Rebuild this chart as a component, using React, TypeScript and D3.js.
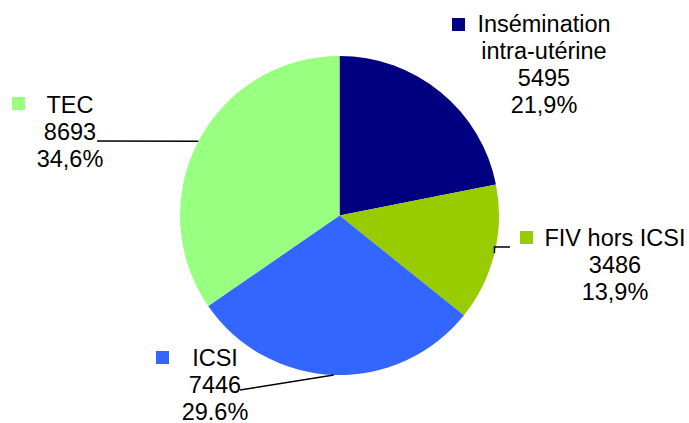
import React from "react";
import * as d3 from "d3";

const categories = ["Insémination intra-utérine", "FIV hors ICSI", "ICSI", "TEC"];
const values = [5495, 3486, 7446, 8693];
const percentLabels = ["21,9%", "13,9%", "29.6%", "34,6%"];
const nameLines = [["Insémination", "intra-utérine"], ["FIV hors ICSI"], ["ICSI"], ["TEC"]];
const colors = ["#000080", "#99CC00", "#3366FF", "#99FF80"];

// layout: label center x, first baseline y, legend square pos, leader end (null = none)
const labelLayout = [
  { cx: 544, y: 32, sq: [452, 18], leader: null as null | [number, number], elbow: false },
  { cx: 615, y: 246, sq: [520, 231], leader: [510, 247] as [number, number], elbow: true },
  { cx: 215, y: 366, sq: [156, 351], leader: [240, 390] as [number, number], elbow: false },
  { cx: 70, y: 113, sq: [12, 97], leader: [97, 141] as [number, number], elbow: false },
];

const W = 689;
const H = 423;
const CX = 339.5;
const CY = 215.5;
const R = 159.5;
const FONT = 23.5;
const LH = 27;

export default function App() {
  const pie = d3
    .pie<number>()
    .sort(null)
    .startAngle(0)
    .endAngle(2 * Math.PI)
    .value((d) => d);
  const arcs = pie(values);
  const arc = d3.arc<d3.PieArcDatum<number>>().innerRadius(0).outerRadius(R);

  return (
    <svg
      width={W}
      height={H}
      style={{ position: "absolute", left: 0, top: 0 }}
      fontFamily="'Liberation Sans', Arial, sans-serif"
    >
      <rect width={W} height={H} fill="#ffffff" />
      <g transform={`translate(${CX},${CY})`}>
        {arcs.map((a, i) => (
          <path key={categories[i]} d={arc(a) || ""} fill={colors[i]} />
        ))}
      </g>
      {arcs.map((a, i) => {
        const L = labelLayout[i];
        if (!L.leader) return null;
        const mid = (a.startAngle + a.endAngle) / 2;
        const ex = CX + R * Math.sin(mid);
        const ey = CY - R * Math.cos(mid);
        const pts = L.elbow
          ? `${ex},${ey} ${ex},${L.leader[1]} ${L.leader[0]},${L.leader[1]}`
          : `${ex},${ey} ${L.leader[0]},${L.leader[1]}`;
        return <polyline key={"l" + i} points={pts} fill="none" stroke="#000" strokeWidth={1.5} />;
      })}
      {categories.map((c, i) => {
        const L = labelLayout[i];
        const lines = [...nameLines[i], String(values[i]), percentLabels[i]];
        return (
          <g key={"t" + c}>
            <rect x={L.sq[0]} y={L.sq[1]} width={13} height={13} fill={colors[i]} />
            {lines.map((ln, j) => (
              <text
                key={j}
                x={L.cx}
                y={L.y + j * LH}
                textAnchor="middle"
                fontSize={FONT}
                fill="#000"
              >
                {ln}
              </text>
            ))}
          </g>
        );
      })}
    </svg>
  );
}
